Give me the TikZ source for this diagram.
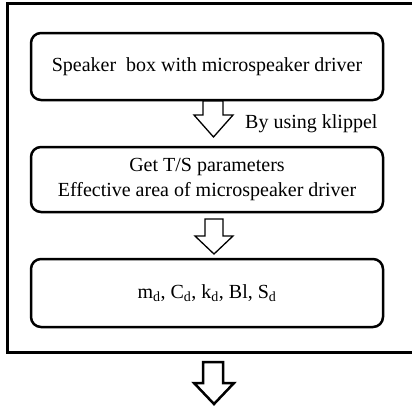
\documentclass[tikz,border=0pt]{standalone}
\usepackage{fontspec}
\setmainfont{Liberation Serif}
\begin{document}
\begin{tikzpicture}[x=1pt,y=-1pt,
  stepbox/.style={draw, line width=2.5pt, rounded corners=10pt, minimum width=352pt, inner sep=0pt, align=center, font=\fontsize{20}{25}\selectfont},
  lbl/.style={inner sep=0pt, font=\fontsize{20}{25}\selectfont},
  thinarrow/.style={draw, line width=1.3pt, fill=white, line join=miter},
  thickarrow/.style={draw, line width=2.5pt, fill=white, line join=miter}]
\useasboundingbox (0,0) rectangle (412,408);
\begin{scope}
\clip (0,0) rectangle (412,408);
\draw[line width=3pt] (420,3) -- (7,3) -- (7,352) -- (420,352);
\end{scope}
\node[stepbox, minimum height=67pt] (b1) at (207,66.5) {Speaker\hspace{0.5em}box with microspeaker driver};
\node[stepbox, minimum height=65pt] (b2) at (207,179.5) {Get T/S parameters\\Effective area of microspeaker driver};
\node[stepbox, minimum height=68pt] (b3) at (207,293) {m\textsubscript{d}, C\textsubscript{d}, k\textsubscript{d}, Bl, S\textsubscript{d}};
% hollow arrows
\draw[thinarrow] (203,101) -- (203,115) -- (194,115) -- (213.5,137) -- (233,115) -- (223,115) -- (223,101) -- cycle;
\node[lbl, anchor=west] (k) at (245,124) {By using klippel};
\draw[thinarrow] (205,219) -- (205,236) -- (195,236) -- (214,254) -- (233,236) -- (223,236) -- (223,219) -- cycle;
\draw[thickarrow] (203,362) -- (203,383) -- (194,383) -- (214,404) -- (234,383) -- (223,383) -- (223,362) -- cycle;
\end{tikzpicture}
\end{document}
